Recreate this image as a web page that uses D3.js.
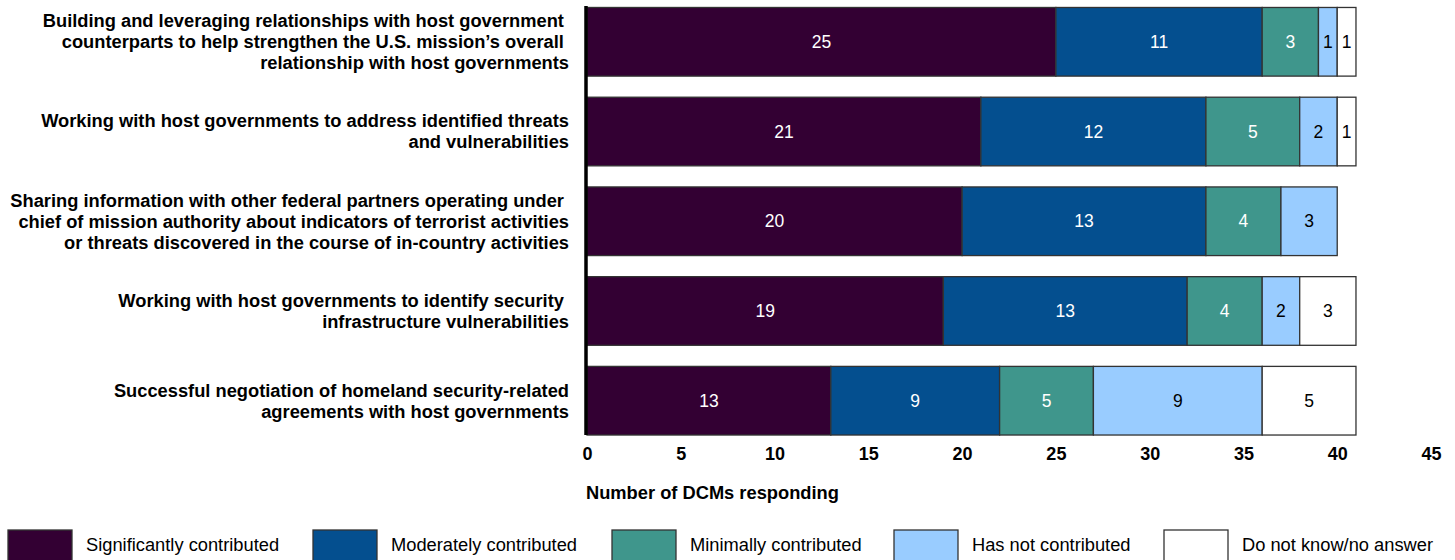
<!DOCTYPE html>
<html><head><meta charset="utf-8">
<script src="https://cdn.jsdelivr.net/npm/d3@7"></script>
<style>body{margin:0;background:#fff}svg{display:block;font-family:"Liberation Sans",Arial,sans-serif}</style>
</head><body><svg id="c" width="1455" height="560"></svg>
<script>
const categories = [
  ["Building and leveraging relationships with host government\u00a0", "counterparts to help strengthen the U.S. mission\u2019s overall\u00a0", "relationship with host governments"],
  ["Working with host governments to address identified threats", "and vulnerabilities"],
  ["Sharing information with other federal partners operating under\u00a0", "chief of mission authority about indicators of terrorist activities", "or threats discovered in the course of in-country activities"],
  ["Working with host governments to identify security\u00a0", "infrastructure vulnerabilities"],
  ["Successful negotiation of homeland security-related", "agreements with host governments"]
];
const seriesNames = ["Significantly contributed","Moderately contributed","Minimally contributed","Has not contributed","Do not know/no answer"];
const significantly = [25,21,20,19,13];
const moderately   = [11,12,13,13,9];
const minimally    = [3,5,4,4,5];
const hasNot       = [1,2,3,2,9];
const doNotKnow    = [1,1,0,3,5];
const xTicks = [0,5,10,15,20,25,30,35,40,45];
const colors = ["#330033","#044f8f","#3f968c","#99ccff","#ffffff"];
const labelColors = ["#fff","#fff","#fff","#000","#000"];

const series = [significantly, moderately, minimally, hasNot, doNotKnow];
const svg = d3.select("#c");
const x = d3.scaleLinear().domain([0,45]).range([587,1431]);
const y = d3.scaleBand().domain(d3.range(categories.length)).range([-1.5,444]).paddingInner(0.235).paddingOuter(0.1);

const rows = categories.map((c,i)=>{const o={}; seriesNames.forEach((s,j)=>o[s]=series[j][i]); return o;});
const stacked = d3.stack().keys(seriesNames)(rows);

const g = svg.append("g");
stacked.forEach((layer,j)=>{
  layer.forEach((d,i)=>{
    if (d[1]-d[0] <= 0) return;
    g.append("rect").attr("x",x(d[0])).attr("y",y(i)).attr("width",x(d[1])-x(d[0])).attr("height",y.bandwidth())
      .attr("fill",colors[j]).attr("stroke","#333").attr("stroke-width",1.3);
    g.append("text").attr("x",(x(d[0])+x(d[1]))/2).attr("y",y(i)+y.bandwidth()/2).attr("dy","0.35em")
      .attr("text-anchor","middle").attr("font-size",17.5).attr("fill",labelColors[j]).text(d[1]-d[0]);
  });
});

// vertical axis line
svg.append("line").attr("x1",586).attr("x2",586).attr("y1",6).attr("y2",y(4)+y.bandwidth()).attr("stroke","#000").attr("stroke-width",3.5);

// category labels
categories.forEach((lines,i)=>{
  const cy = y(i)+y.bandwidth()/2;
  const lh = 21;
  const t = svg.append("text").attr("text-anchor","end").attr("font-weight","bold").attr("font-size",18.3).attr("fill","#000");
  lines.forEach((ln,k)=>{
    t.append("tspan").attr("x",569).attr("y",cy + (k-(lines.length-1)/2)*lh).attr("dy","0.35em").text(ln);
  });
});

// x axis
const xAxis = d3.axisBottom(x).tickValues(xTicks).tickSize(0).tickPadding(0);
const ax = svg.append("g").attr("transform","translate(0,447)").call(xAxis);
ax.select(".domain").remove();
ax.selectAll("text").attr("font-size",18).attr("font-weight","bold").attr("fill","#000")
  .attr("font-family","Liberation Sans, Arial, sans-serif").attr("dy","0.71em");

svg.append("text").attr("x",586).attr("y",493).attr("dy","0.35em").attr("font-size",18.3).attr("font-weight","bold").text("Number of DCMs responding");

// legend
const legX = [8,313,612,894,1164];
seriesNames.forEach((s,j)=>{
  svg.append("rect").attr("x",legX[j]).attr("y",530).attr("width",64).attr("height",34).attr("fill",colors[j]).attr("stroke","#333").attr("stroke-width",1.3);
  svg.append("text").attr("x",legX[j]+78).attr("y",545).attr("dy","0.35em").attr("font-size",18.3).attr("fill","#000").text(s);
});
</script></body></html>
